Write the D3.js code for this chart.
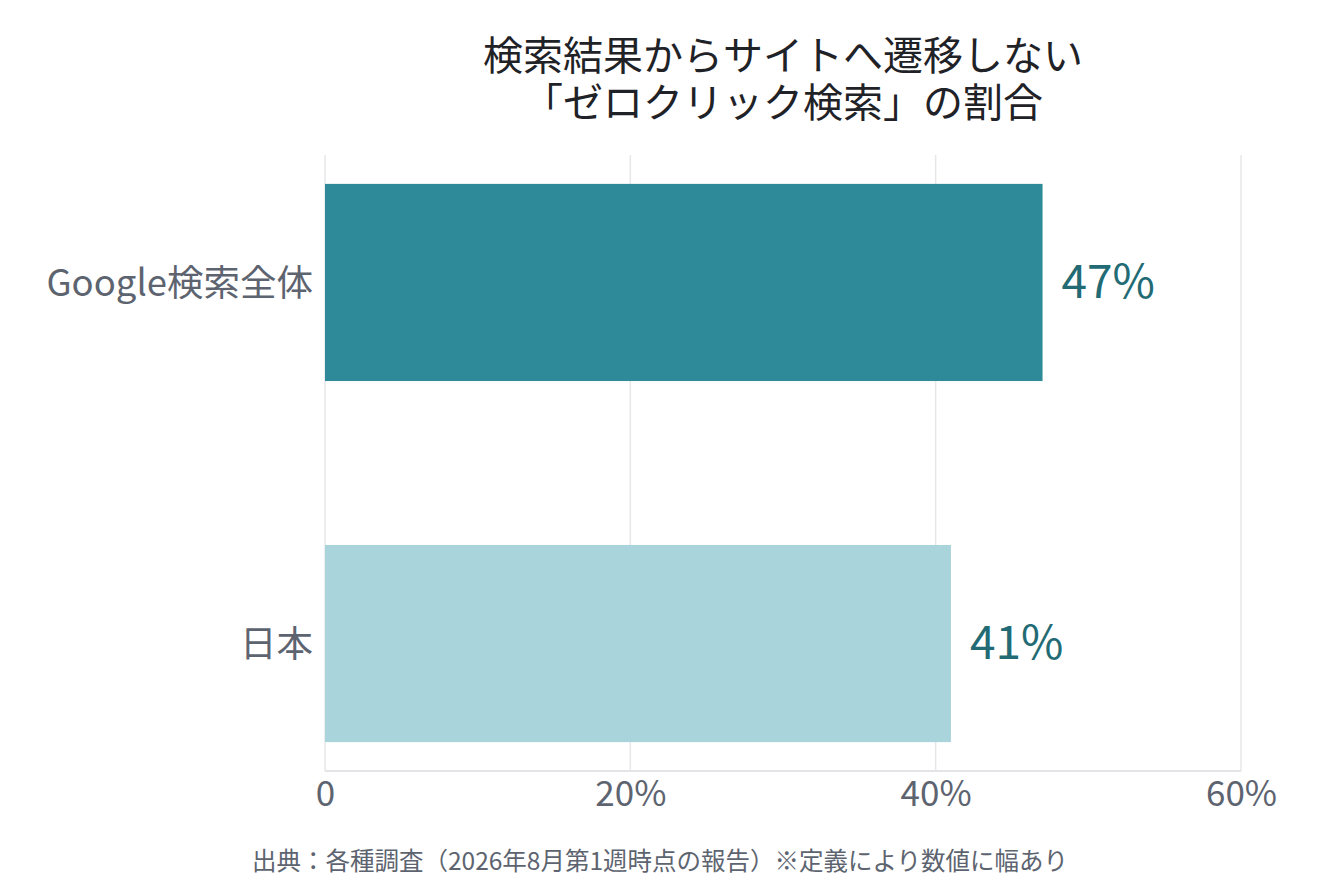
<!DOCTYPE html>
<html>
<head>
<meta charset="utf-8">
<script src="https://cdn.jsdelivr.net/npm/d3@7"></script>
<style>
  body { margin: 0; background: #fff; }
  text { font-family: "Noto Sans CJK JP", "Noto Sans", sans-serif; }
</style>
</head>
<body>
<div id="chart"></div>
<script>
// chart data
const categories = ["Google検索全体", "日本"];
const values = [47, 41];
const barColors = ["#2e8a98", "#aad4dc"];
const xTicks = [0, 20, 40, 60];
const titleLines = ["検索結果からサイトへ遷移しない", "「ゼロクリック検索」の割合"];
const sourceNote = "出典：各種調査（2026年8月第1週時点の報告）※定義により数値に幅あり";

const WIDTH = 1320;
const HEIGHT = 880;
const MARGIN = { left: 325, right: 79, top: 155, bottom: 109 };

const svg = d3.select("#chart")
  .append("svg")
  .attr("width", WIDTH)
  .attr("height", HEIGHT);

const x = d3.scaleLinear()
  .domain([0, 60])
  .range([MARGIN.left, WIDTH - MARGIN.right]);

const y = d3.scaleBand()
  .domain(categories)
  .range([MARGIN.top, HEIGHT - MARGIN.bottom])
  .paddingInner(0.454)
  .paddingOuter(0.08);

// gridlines
svg.append("g")
  .selectAll("line")
  .data(xTicks)
  .enter()
  .append("line")
  .attr("x1", d => x(d))
  .attr("x2", d => x(d))
  .attr("y1", MARGIN.top)
  .attr("y2", HEIGHT - MARGIN.bottom)
  .attr("stroke", "#e6e7ea")
  .attr("stroke-width", 1.5);

// bottom axis line
svg.append("line")
  .attr("x1", x(0))
  .attr("x2", x(60))
  .attr("y1", HEIGHT - MARGIN.bottom)
  .attr("y2", HEIGHT - MARGIN.bottom)
  .attr("stroke", "#e2e4e8")
  .attr("stroke-width", 2);

// x axis tick labels
const xAxis = d3.axisBottom(x)
  .tickValues(xTicks)
  .tickSize(0)
  .tickPadding(35)
  .tickFormat(d => d === 0 ? "0" : d + "%");

const gX = svg.append("g")
  .attr("transform", "translate(0," + (HEIGHT - MARGIN.bottom) + ")")
  .call(xAxis);
gX.select(".domain").remove();
gX.selectAll("text")
  .attr("font-family", "Noto Sans CJK JP")
  .attr("font-size", 35)
  .attr("fill", "#5d6470")
  .attr("dy", 0);

// bars
svg.append("g")
  .selectAll("rect")
  .data(values)
  .enter()
  .append("rect")
  .attr("x", x(0))
  .attr("y", (d, i) => y(categories[i]))
  .attr("width", d => x(d) - x(0))
  .attr("height", y.bandwidth())
  .attr("fill", (d, i) => barColors[i]);

// value labels
svg.append("g")
  .selectAll("text")
  .data(values)
  .enter()
  .append("text")
  .attr("x", d => x(d) + 19)
  .attr("y", (d, i) => y(categories[i]) + y.bandwidth() / 2)
  .attr("dy", "0.34em")
  .attr("font-size", 46)
  .attr("fill", "#236b74")
  .text(d => d + "%");

// category labels
svg.append("g")
  .selectAll("text")
  .data(categories)
  .enter()
  .append("text")
  .attr("x", MARGIN.left - 12)
  .attr("y", d => y(d) + y.bandwidth() / 2)
  .attr("dy", "0.36em")
  .attr("text-anchor", "end")
  .attr("font-size", 36.5)
  .attr("fill", "#5d6470")
  .text(d => d);

// title (one text, two lines)
const title = svg.append("text")
  .attr("text-anchor", "middle")
  .attr("font-size", 40)
  .attr("fill", "#1f2226");

title.selectAll("tspan")
  .data(titleLines)
  .enter()
  .append("tspan")
  .attr("x", (x(0) + x(60)) / 2)
  .attr("y", (d, i) => 70 + i * 47)
  .text(d => d);

// source note
svg.append("text")
  .attr("x", 660)
  .attr("y", 870)
  .attr("text-anchor", "middle")
  .attr("font-size", 24.5)
  .attr("fill", "#5d6470")
  .text(sourceNote);
</script>
</body>
</html>
